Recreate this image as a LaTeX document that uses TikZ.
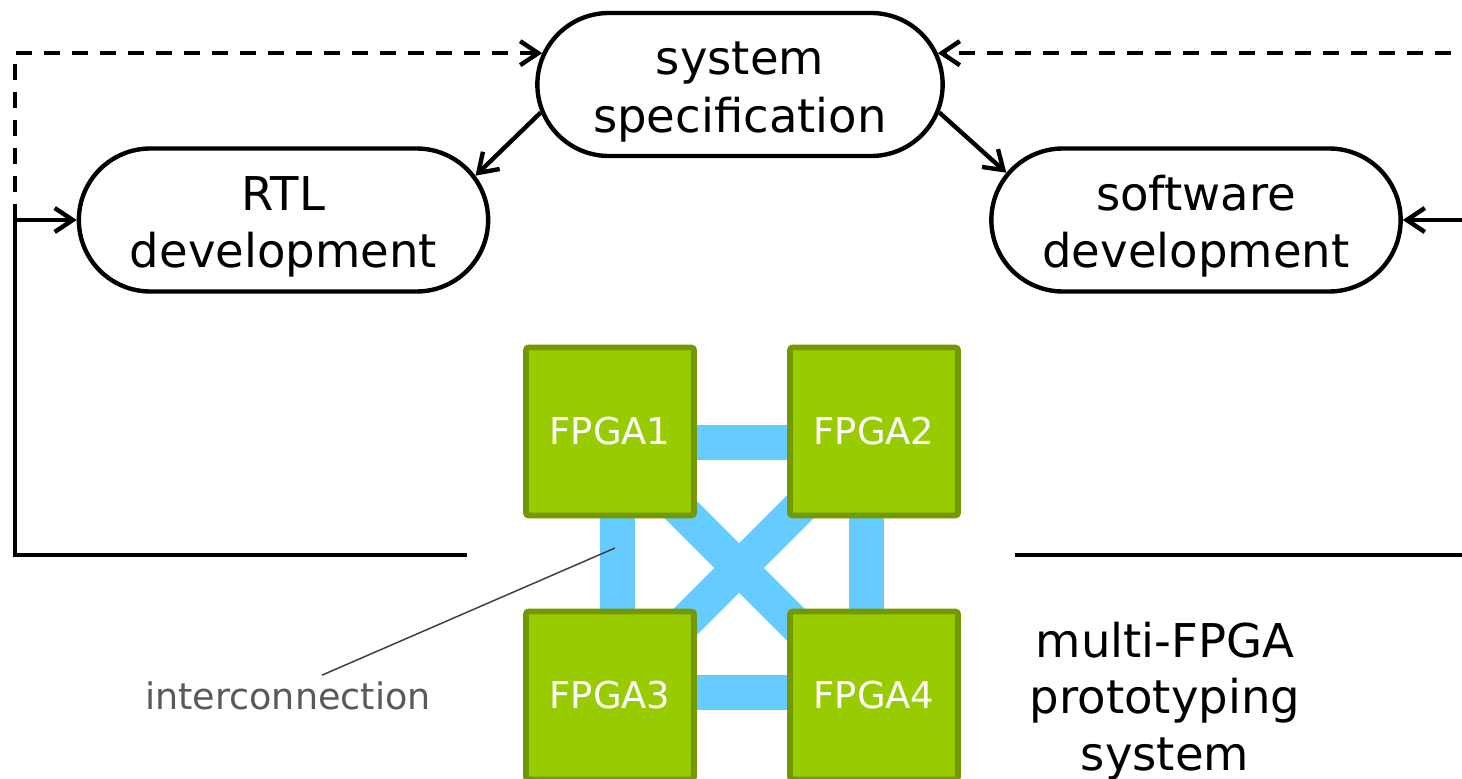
\documentclass[tikz,border=0pt]{standalone}
\usepackage{fontspec}
\setmainfont{DejaVu Sans}
\usetikzlibrary{shapes.misc,arrows.meta,backgrounds}
\definecolor{fpgafill}{HTML}{99CC00}
\definecolor{fpgaedge}{HTML}{739900}
\definecolor{linkblue}{HTML}{66CCFF}
\definecolor{notegray}{HTML}{595959}
\definecolor{pointgray}{HTML}{404040}
\newcommand{\tallline}{\rule{0pt}{1.02em}}
\begin{document}
\begin{tikzpicture}
	[x=0.2mm, y=-0.2mm,
	 pill/.style={rounded rectangle, draw, line width=2.5pt, minimum width=84.2mm, minimum height=28.6mm,
	   align=center, font=\fontsize{26.5}{32.8}\selectfont},
	 fpga/.style={rectangle, draw=fpgaedge, fill=fpgafill, line width=3.4pt, rounded corners=0.6mm,
	   minimum size=33.6mm, inner sep=0pt, text=white, font=\fontsize{21}{25}\selectfont},
	 flow/.style={line width=2.5pt, -{Straight Barb[length=3.6mm,width=4.8mm]}},
	 feedback/.style={flow, dash pattern=on 3.2mm off 2.4mm},
	 link/.style={linkblue, line width=7mm},
	 pointer/.style={pointgray, line width=0.85pt}]
	\clip (0,0) rectangle (1462,779);
	\node[pill, minimum width=83.4mm] (spec) at (740,84.5) {\tallline system\\specification};
	\node[pill] (rtl) at (283.5,220) {\tallline RTL\\development};
	\node[pill] (sw) at (1196,220) {\tallline software\\development};
	\draw[flow] (spec.188) -- (rtl.13);
	\draw[flow] (spec.-8) -- (sw.166);
	\coordinate (lturn) at (15,220);
	\coordinate (lend) at (467,555);
	\coordinate (rturn) at (1480,220);
	\coordinate (rend) at (1015,555);
	\draw[flow] (lend) -| (lturn) -- (rtl.west);
	\draw[feedback] (lturn) |- (spec.171);
	\draw[flow] (rend) -| (rturn) -- (sw.east);
	\draw[feedback] (rturn) |- (spec.9);
	\node[fpga] (f1) at (610,431.5) {FPGA1};
	\node[fpga] (f2) at (874,431.5) {FPGA2};
	\node[fpga] (f3) at (610,695.5) {FPGA3};
	\node[fpga] (f4) at (874,695.5) {FPGA4};
	\begin{scope}[on background layer]
		\draw[link] ([yshift=-2.2mm]f1.center) -- ([yshift=-2.2mm]f2.center);
		\draw[link] ([yshift=0.7mm]f3.center) -- ([yshift=0.7mm]f4.center);
		\draw[link] ([xshift=1.4mm]f1.center) -- ([xshift=1.4mm]f3.center);
		\draw[link] ([xshift=-1.5mm]f2.center) -- ([xshift=-1.5mm]f4.center);
		\draw[link] ([yshift=-1.5mm]f1.center) -- ([yshift=-1.5mm]f4.center);
		\draw[link] ([yshift=-0.3mm]f2.center) -- ([yshift=-0.3mm]f3.center);
	\end{scope}
	\node[text=notegray, font=\fontsize{20.8}{25}\selectfont] (ic) at (288,695.5) {interconnection};
	\coordinate (icpt) at (615,548);
	\draw[pointer] ([xshift=6.8mm]ic.north) -- (icpt);
	\node[align=center, font=\fontsize{26.5}{32.3}\selectfont] (proto) at (1165,701) {multi-FPGA\\prototyping\\system};
\end{tikzpicture}
\end{document}
